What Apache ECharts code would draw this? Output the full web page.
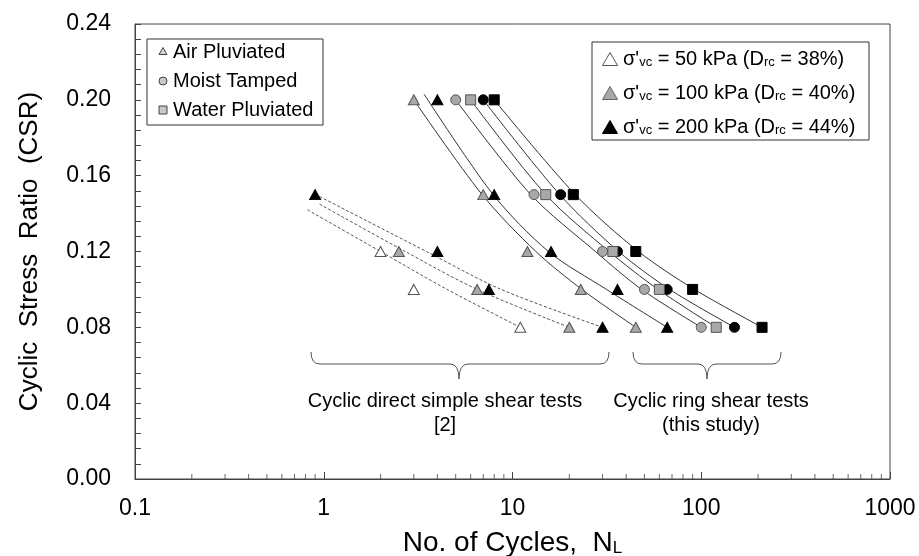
<!DOCTYPE html>
<html>
<head>
<meta charset="utf-8">
<script src="https://cdn.jsdelivr.net/npm/echarts@6/dist/echarts.min.js"></script>
<style>
  html, body { margin: 0; padding: 0; background: #fff; }
  #chart { width: 919px; height: 556px; }
</style>
</head>
<body>
<div id="chart"></div>
<script>
// ring shear tests (this study): [N, CSR]
const apGray = [[3, 0.20], [7, 0.15], [12, 0.12], [23, 0.10], [45, 0.08]];
const apBlack = [[4, 0.20], [8, 0.15], [16, 0.12], [36, 0.10], [66, 0.08]];
const mtGray = [[5, 0.20], [13, 0.15], [30, 0.12], [50, 0.10], [100, 0.08]];
const mtBlack = [[7, 0.20], [18, 0.15], [36, 0.12], [66, 0.10], [150, 0.08]];
const wpGray = [[6, 0.20], [15, 0.15], [34, 0.12], [60, 0.10], [120, 0.08]];
const wpBlack = [[8, 0.20], [21, 0.15], [45, 0.12], [90, 0.10], [210, 0.08]];

// cyclic direct simple shear tests [2]
const dssWhite = [[2, 0.12], [3, 0.10], [11, 0.08]];
const dssGray = [[2.5, 0.12], [6.5, 0.10], [20, 0.08]];
const dssBlack = [[0.9, 0.15], [4, 0.12], [7.5, 0.10], [30, 0.08]];

// trend curves
const fitApGray = [[3, 0.20], [6.9, 0.15], [13.3, 0.12], [23.3, 0.10], [45, 0.08]];
const fitApBlack = [[3.4, 0.203], [7.9, 0.15], [15.5, 0.12], [31.5, 0.10], [66, 0.08]];
const fitMtGray = [[5, 0.20], [12.5, 0.15], [27.5, 0.12], [48.3, 0.10], [100, 0.08]];
const fitMtBlack = [[7, 0.20], [17.8, 0.15], [36.5, 0.12], [68, 0.10], [150, 0.08]];
const fitWpGray = [[6, 0.20], [15, 0.15], [32.5, 0.12], [59, 0.10], [120, 0.08]];
const fitWpBlack = [[8, 0.20], [21.5, 0.15], [46.5, 0.12], [92, 0.10], [210, 0.08]];
const fitDssWhite = [[0.82, 0.142], [2, 0.12], [4.5, 0.10], [11, 0.08]];
const fitDssGray = [[0.95, 0.145], [2.7, 0.12], [6.5, 0.10], [20, 0.08]];
const fitDssBlack = [[0.95, 0.149], [3.5, 0.12], [8.7, 0.10], [30, 0.08]];

// log minor tick positions
const minorTicksX = [0.2, 0.3, 0.4, 0.5, 0.6, 0.7, 0.8, 0.9,
  2, 3, 4, 5, 6, 7, 8, 9,
  20, 30, 40, 50, 60, 70, 80, 90,
  200, 300, 400, 500, 600, 700, 800, 900];

const FONT = "Liberation Sans, Arial, sans-serif";
const GRAY = "#a8a8a8";
const EDGE = "#555";

const chart = echarts.init(document.getElementById("chart"));

function marks(data, symbol, size, fill, z) {
  return {
    type: "scatter", data: data, symbol: symbol, symbolSize: size, z: z || 5,
    itemStyle: { color: fill, borderColor: fill === "#000" ? "#000" : EDGE, borderWidth: 1, opacity: 1 },
    silent: true
  };
}
function curve(data, dashed) {
  return {
    type: "line", data: data, smooth: 0.3, showSymbol: false, symbol: "none", z: 3,
    lineStyle: { color: dashed ? "#555" : "#333", width: 1, type: dashed ? [3, 2] : "solid" },
    silent: true
  };
}

const sub = { fontSize: 13, fontFamily: FONT, color: "#000", verticalAlign: "bottom", lineHeight: 14 };
const main = { fontSize: 20, fontFamily: FONT, color: "#000", verticalAlign: "bottom", lineHeight: 22 };

function legendText(x, y, str) {
  return { type: "text", x: x, y: y, z: 11, style: { text: str, fontSize: 20, fontFamily: FONT, fill: "#000", verticalAlign: "middle" } };
}
function sigmaText(x, y, p, d) {
  return {
    type: "text", x: x, y: y, z: 11,
    style: { text: "{a|σ'}{s|vc}{a| = " + p + " kPa (D}{s|rc}{a| = " + d + "%)}", verticalAlign: "middle", rich: { a: main, s: sub } }
  };
}
function tri(cx, cy, w, h, fill, stroke) {
  return {
    type: "polygon", z: 11,
    shape: { points: [[cx - w / 2, cy + h / 2], [cx + w / 2, cy + h / 2], [cx, cy - h / 2]] },
    style: { fill: fill, stroke: stroke, lineWidth: 1 }
  };
}
function label(x, y, str) {
  return { type: "text", z: 10, x: x, y: y, style: { text: str, fontSize: 20, fontFamily: FONT, fill: "#000", align: "center", verticalAlign: "middle" } };
}
// curly brace made of lines and bezier pieces
function brace(xl, xr, xm, yTop, yMid, yTip) {
  const st = { stroke: "#555", lineWidth: 1, fill: null };
  const r = 9;
  return [
    { type: "bezierCurve", z: 10, shape: { x1: xl, y1: yTop, cpx1: xl, cpy1: yMid, x2: xl + r, y2: yMid }, style: st },
    { type: "line", z: 10, shape: { x1: xl + r, y1: yMid, x2: xm - r, y2: yMid }, style: st },
    { type: "bezierCurve", z: 10, shape: { x1: xm - r, y1: yMid, cpx1: xm, cpy1: yMid, x2: xm, y2: yTip }, style: st },
    { type: "bezierCurve", z: 10, shape: { x1: xm, y1: yTip, cpx1: xm, cpy1: yMid, x2: xm + r, y2: yMid }, style: st },
    { type: "line", z: 10, shape: { x1: xm + r, y1: yMid, x2: xr - r, y2: yMid }, style: st },
    { type: "bezierCurve", z: 10, shape: { x1: xr - r, y1: yMid, cpx1: xr, cpy1: yMid, x2: xr, y2: yTop }, style: st }
  ];
}

const option = {
  animation: false,
  backgroundColor: "#fff",
  grid: {
    left: 135, right: 29, top: 24, bottom: 77,
    outerBoundsMode: "none", containLabel: false,
    show: true, borderColor: "#444", borderWidth: 1
  },
  xAxis: {
    type: "log", logBase: 10, min: 0.1, max: 1000,
    name: "{a|No. of Cycles,  N}{s|L}",
    nameLocation: "middle", nameGap: 48,
    nameTextStyle: {
      rich: {
        a: { fontSize: 28, fontFamily: FONT, color: "#000", verticalAlign: "bottom", lineHeight: 30 },
        s: { fontSize: 17, fontFamily: FONT, color: "#000", verticalAlign: "bottom", lineHeight: 16 }
      }
    },
    axisLine: { show: true, lineStyle: { color: "#444" } },
    axisTick: { show: true, inside: true, length: 7, lineStyle: { color: "#444" } },
    splitLine: { show: false },
    axisLabel: {
      fontSize: 23, fontFamily: FONT, color: "#000", margin: 18,
      formatter: v => (v < 1 ? v.toFixed(1) : String(Math.round(v)))
    }
  },
  yAxis: {
    type: "value", min: 0, max: 0.24, interval: 0.04,
    name: "Cyclic  Stress  Ratio  (CSR)",
    nameLocation: "middle", nameGap: 92, nameRotate: 90,
    nameTextStyle: { fontSize: 26, fontFamily: FONT, color: "#000" },
    axisLine: { show: true, lineStyle: { color: "#444" } },
    axisTick: { show: true, inside: true, length: 6, lineStyle: { color: "#444" } },
    minorTick: { show: true, splitNumber: 5, length: 6, lineStyle: { color: "#444" } },
    splitLine: { show: false },
    axisLabel: {
      fontSize: 23, fontFamily: FONT, color: "#000", margin: 24,
      formatter: v => v.toFixed(2)
    }
  },
  series: [
    {
      // log minor ticks on the x axis
      type: "scatter", silent: true, z: 2,
      data: minorTicksX.map(v => [v, 0]),
      symbol: "rect", symbolSize: [1, 5], symbolOffset: [0, -2.5],
      itemStyle: { color: "#444" }
    },
    curve(fitApGray), curve(fitApBlack), curve(fitMtGray), curve(fitMtBlack), curve(fitWpGray), curve(fitWpBlack),
    curve(fitDssWhite, true), curve(fitDssGray, true), curve(fitDssBlack, true),
    marks(dssWhite, "triangle", [11, 10], "#fff"),
    marks(dssGray, "triangle", [11, 10], GRAY),
    marks(dssBlack, "triangle", [11, 10], "#000"),
    marks(apGray, "triangle", [11, 10], GRAY),
    marks(apBlack, "triangle", [11, 10], "#000"),
    marks(mtGray, "circle", 10, GRAY),
    marks(mtBlack, "circle", 10, "#000"),
    marks(wpGray, "rect", 10, GRAY, 6),
    marks(wpBlack, "rect", 10, "#000", 6)
  ],
  graphic: [
    // left legend box
    { type: "rect", z: 10, shape: { x: 147, y: 39, width: 176, height: 86 }, style: { fill: "#fff", stroke: "#333", lineWidth: 1 } },
    tri(163, 51, 8, 7, "#d0d0d0", "#444"),
    { type: "circle", z: 11, shape: { cx: 163, cy: 81, r: 4 }, style: { fill: "#c8c8c8", stroke: "#444", lineWidth: 1 } },
    { type: "rect", z: 11, shape: { x: 159, y: 106, width: 8, height: 8 }, style: { fill: "#c8c8c8", stroke: "#444", lineWidth: 1 } },
    legendText(173, 52, "Air Pluviated"),
    legendText(173, 81, "Moist Tamped"),
    legendText(173, 110, "Water Pluviated"),
    // right legend box
    { type: "rect", z: 10, shape: { x: 592, y: 42, width: 277, height: 98 }, style: { fill: "#fff", stroke: "#333", lineWidth: 1 } },
    tri(610, 59, 15, 13, "#fff", "#555"),
    tri(610, 93, 15, 13, GRAY, "#666"),
    tri(610, 127, 15, 13, "#000", "#000"),
    sigmaText(623, 58, "50", "38"),
    sigmaText(623, 92, "100", "40"),
    sigmaText(623, 126, "200", "44"),
    ...brace(311, 609, 459, 352, 364, 379),
    ...brace(633, 781, 707, 352, 364, 379),
    label(445, 401, "Cyclic direct simple shear tests"),
    label(445, 425, "[2]"),
    label(711, 401, "Cyclic ring shear tests"),
    label(711, 425, "(this study)")
  ]
};

chart.setOption(option);
</script>
</body>
</html>
